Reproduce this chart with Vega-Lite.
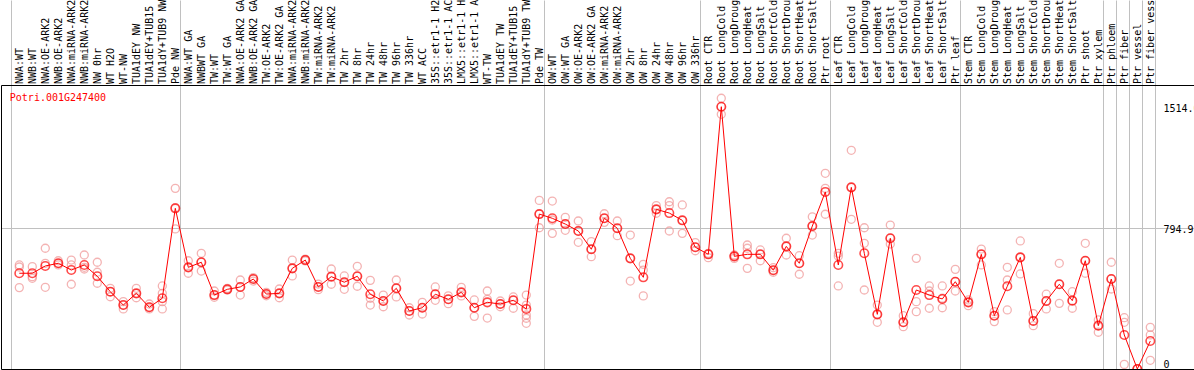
{
  "$schema": "https://vega.github.io/schema/vega-lite/v6.json",
  "width": 1193,
  "height": 284,
  "autosize": {"type": "none"},
  "padding": {"left": 1, "top": 85, "right": 0, "bottom": 1},
  "background": "white",
  "config": {
    "view": {"stroke": null},
    "font": "DejaVu Sans Mono",
    "axis": {"labelFont": "DejaVu Sans Mono", "titleFont": "DejaVu Sans Mono"}
  },
  "datasets": {
    "means": [
      {"i":1,"sample":"NWA:WT","v":529},{"i":2,"sample":"NWB:WT","v":529},{"i":3,"sample":"NWA:OE-ARK2","v":572},{"i":4,"sample":"NWB:OE-ARK2","v":588},
      {"i":5,"sample":"NWA:miRNA-ARK2","v":548},{"i":6,"sample":"NWB:miRNA-ARK2","v":578},{"i":7,"sample":"NW 0hr","v":511},{"i":8,"sample":"WT H2O","v":420},
      {"i":9,"sample":"WT-NW","v":341},{"i":10,"sample":"TUA1dEY NW","v":410},{"i":11,"sample":"TUA1dEY+TUB15 NW","v":328},{"i":12,"sample":"TUA1dY+TUB9 NW","v":381},
      {"i":13,"sample":"Pde NW","v":913},{"i":14,"sample":"NWA:WT GA","v":564},{"i":15,"sample":"NWBWT GA","v":594},{"i":16,"sample":"TW:WT","v":400},
      {"i":17,"sample":"TW:WT GA","v":434},{"i":18,"sample":"NWA:OE-ARK2 GA","v":448},{"i":19,"sample":"NWB:OE-ARK2 GA","v":495},{"i":20,"sample":"TW:OE-ARK2","v":406},
      {"i":21,"sample":"TW:OE-ARK2 GA","v":410},{"i":22,"sample":"NWA:miRNA-ARK2 GA","v":558},{"i":23,"sample":"NWB:miRNA-ARK2 GA","v":607},{"i":24,"sample":"TW:miRNA-ARK2","v":448},
      {"i":25,"sample":"TW:miRNA-ARK2 GA","v":509},{"i":26,"sample":"TW 2hr","v":476},{"i":27,"sample":"TW 8hr","v":511},{"i":28,"sample":"TW 24hr","v":405},
      {"i":29,"sample":"TW 48hr","v":365},{"i":30,"sample":"TW 96hr","v":440},{"i":31,"sample":"TW 336hr","v":306},{"i":32,"sample":"WT ACC","v":325},
      {"i":33,"sample":"35S::etr1-1 H2O","v":405},{"i":34,"sample":"35S::etr1-1 ACC","v":375},{"i":35,"sample":"LMX5::etr1-1 H2O","v":416},{"i":36,"sample":"LMX5::etr1-1 ACC","v":325},
      {"i":37,"sample":"WT-TW","v":357},{"i":38,"sample":"TUA1dEY TW","v":347},{"i":39,"sample":"TUA1dEY+TUB15 TW","v":369},{"i":40,"sample":"TUA1dY+TUB9 TW","v":318},
      {"i":41,"sample":"Pde TW","v":879},{"i":42,"sample":"OW:WT","v":854},{"i":43,"sample":"OW:WT GA","v":820},{"i":44,"sample":"OW:OE-ARK2","v":779},
      {"i":45,"sample":"OW:OE-ARK2 GA","v":671},{"i":46,"sample":"OW:miRNA-ARK2","v":854},{"i":47,"sample":"OW:miRNA-ARK2 GA","v":795},{"i":48,"sample":"OW 2hr","v":617},
      {"i":49,"sample":"OW 8hr","v":505},{"i":50,"sample":"OW 24hr","v":907},{"i":51,"sample":"OW 48hr","v":885},{"i":52,"sample":"OW 96hr","v":842},
      {"i":53,"sample":"OW 336hr","v":683},{"i":54,"sample":"Root CTR","v":641},{"i":55,"sample":"Root LongCold","v":1514},{"i":56,"sample":"Root LongDrought","v":629},
      {"i":57,"sample":"Root LongHeat","v":641},{"i":58,"sample":"Root LongSalt","v":641},{"i":59,"sample":"Root ShortCold","v":547},{"i":60,"sample":"Root ShortDrought","v":688},
      {"i":61,"sample":"Root ShortHeat","v":588},{"i":62,"sample":"Root ShortSalt","v":808},{"i":63,"sample":"Ptr root","v":1010},{"i":64,"sample":"Leaf CTR","v":578},
      {"i":65,"sample":"Leaf LongCold","v":1037},{"i":66,"sample":"Leaf LongDrought","v":647},{"i":67,"sample":"Leaf LongHeat","v":286},{"i":68,"sample":"Leaf LongSalt","v":736},
      {"i":69,"sample":"Leaf ShortCold","v":239},{"i":70,"sample":"Leaf ShortDrought","v":430},{"i":71,"sample":"Leaf ShortHeat","v":400},{"i":72,"sample":"Leaf ShortSalt","v":377},
      {"i":73,"sample":"Ptr leaf","v":479},{"i":74,"sample":"Stem CTR","v":357},{"i":75,"sample":"Stem LongCold","v":641},{"i":76,"sample":"Stem LongDrought","v":278},
      {"i":77,"sample":"Stem LongHeat","v":452},{"i":78,"sample":"Stem LongSalt","v":623},{"i":79,"sample":"Stem ShortCold","v":247},{"i":80,"sample":"Stem ShortDrought","v":365},
      {"i":81,"sample":"Stem ShortHeat","v":464},{"i":82,"sample":"Stem ShortSalt","v":367},{"i":83,"sample":"Ptr shoot","v":603},{"i":84,"sample":"Ptr xylem","v":219},
      {"i":85,"sample":"Ptr phloem","v":495},{"i":86,"sample":"Ptr fiber","v":164},{"i":87,"sample":"Ptr vessel","v":-37},{"i":88,"sample":"Ptr fiber vessel","v":128}
    ],
    "reps": [
      {"i":1,"v":578},{"i":1,"v":566},{"i":1,"v":444},
      {"i":2,"v":568},{"i":2,"v":509},{"i":2,"v":499},
      {"i":3,"v":677},{"i":3,"v":588},{"i":3,"v":446},
      {"i":4,"v":603},{"i":4,"v":588},{"i":4,"v":578},
      {"i":5,"v":607},{"i":5,"v":578},{"i":5,"v":464},
      {"i":6,"v":637},{"i":6,"v":564},{"i":6,"v":554},
      {"i":7,"v":594},{"i":7,"v":535},{"i":7,"v":470},
      {"i":8,"v":440},{"i":8,"v":420},{"i":8,"v":390},
      {"i":9,"v":361},{"i":9,"v":341},{"i":9,"v":318},
      {"i":10,"v":440},{"i":10,"v":410},{"i":10,"v":384},
      {"i":11,"v":347},{"i":11,"v":328},{"i":11,"v":318},
      {"i":12,"v":454},{"i":12,"v":410},{"i":12,"v":361},{"i":12,"v":318},
      {"i":13,"v":1031},{"i":13,"v":917},{"i":13,"v":791},
      {"i":14,"v":603},{"i":14,"v":564},{"i":14,"v":529},
      {"i":15,"v":647},{"i":15,"v":594},{"i":15,"v":542},
      {"i":16,"v":424},{"i":16,"v":400},{"i":16,"v":387},
      {"i":17,"v":440},{"i":17,"v":434},{"i":17,"v":430},
      {"i":18,"v":489},{"i":18,"v":448},{"i":18,"v":400},
      {"i":19,"v":503},{"i":19,"v":495},{"i":19,"v":483},
      {"i":20,"v":416},{"i":20,"v":406},{"i":20,"v":396},
      {"i":21,"v":436},{"i":21,"v":410},{"i":21,"v":384},
      {"i":22,"v":607},{"i":22,"v":558},{"i":22,"v":513},
      {"i":23,"v":613},{"i":23,"v":607},{"i":23,"v":602},
      {"i":24,"v":465},{"i":24,"v":448},{"i":24,"v":432},
      {"i":25,"v":554},{"i":25,"v":509},{"i":25,"v":464},
      {"i":26,"v":513},{"i":26,"v":476},{"i":26,"v":434},
      {"i":27,"v":570},{"i":27,"v":511},{"i":27,"v":452},
      {"i":28,"v":487},{"i":28,"v":381},{"i":28,"v":341},
      {"i":29,"v":400},{"i":29,"v":365},{"i":29,"v":331},
      {"i":30,"v":489},{"i":30,"v":440},{"i":30,"v":389},
      {"i":31,"v":325},{"i":31,"v":306},{"i":31,"v":282},
      {"i":32,"v":357},{"i":32,"v":325},{"i":32,"v":288},
      {"i":33,"v":448},{"i":33,"v":405},{"i":33,"v":369},
      {"i":34,"v":395},{"i":34,"v":375},{"i":34,"v":349},
      {"i":35,"v":446},{"i":35,"v":416},{"i":35,"v":395},
      {"i":36,"v":371},{"i":36,"v":325},{"i":36,"v":274},
      {"i":37,"v":424},{"i":37,"v":375},{"i":37,"v":264},
      {"i":38,"v":365},{"i":38,"v":347},{"i":38,"v":331},
      {"i":39,"v":389},{"i":39,"v":369},{"i":39,"v":322},
      {"i":40,"v":400},{"i":40,"v":341},{"i":40,"v":282},{"i":40,"v":263},{"i":40,"v":233},
      {"i":41,"v":960},{"i":41,"v":879},{"i":41,"v":798},
      {"i":42,"v":956},{"i":42,"v":844},{"i":42,"v":765},
      {"i":43,"v":860},{"i":43,"v":820},{"i":43,"v":783},
      {"i":44,"v":838},{"i":44,"v":779},{"i":44,"v":712},
      {"i":45,"v":716},{"i":45,"v":671},{"i":45,"v":627},
      {"i":46,"v":881},{"i":46,"v":854},{"i":46,"v":830},
      {"i":47,"v":838},{"i":47,"v":795},{"i":47,"v":751},
      {"i":48,"v":755},{"i":48,"v":617},{"i":48,"v":483},
      {"i":49,"v":582},{"i":49,"v":548},{"i":49,"v":395},
      {"i":50,"v":929},{"i":50,"v":907},{"i":50,"v":884},
      {"i":51,"v":952},{"i":51,"v":929},{"i":51,"v":779},
      {"i":52,"v":933},{"i":52,"v":842},{"i":52,"v":765},
      {"i":53,"v":710},{"i":53,"v":683},{"i":53,"v":662},
      {"i":54,"v":647},{"i":54,"v":641},{"i":54,"v":621},
      {"i":55,"v":1564},{"i":55,"v":1514},{"i":55,"v":1469},
      {"i":56,"v":637},{"i":56,"v":629},{"i":56,"v":617},
      {"i":57,"v":696},{"i":57,"v":677},{"i":57,"v":558},
      {"i":58,"v":667},{"i":58,"v":641},{"i":58,"v":603},
      {"i":59,"v":562},{"i":59,"v":547},{"i":59,"v":535},
      {"i":60,"v":736},{"i":60,"v":688},{"i":60,"v":637},
      {"i":61,"v":633},{"i":61,"v":588},{"i":61,"v":523},
      {"i":62,"v":863},{"i":62,"v":808},{"i":62,"v":755},
      {"i":63,"v":1120},{"i":63,"v":1031},{"i":63,"v":878},
      {"i":64,"v":647},{"i":64,"v":630},{"i":64,"v":454},
      {"i":65,"v":1256},{"i":65,"v":1037},{"i":65,"v":848},
      {"i":66,"v":798},{"i":66,"v":706},{"i":66,"v":430},
      {"i":67,"v":341},{"i":67,"v":286},{"i":67,"v":239},
      {"i":68,"v":814},{"i":68,"v":736},{"i":68,"v":702},
      {"i":69,"v":278},{"i":69,"v":239},{"i":69,"v":213},
      {"i":70,"v":617},{"i":70,"v":361},{"i":70,"v":302},
      {"i":71,"v":454},{"i":71,"v":424},{"i":71,"v":322},
      {"i":72,"v":454},{"i":72,"v":381},{"i":72,"v":325},
      {"i":73,"v":552},{"i":73,"v":479},{"i":73,"v":424},
      {"i":74,"v":371},{"i":74,"v":357},{"i":74,"v":337},
      {"i":75,"v":672},{"i":75,"v":641},{"i":75,"v":578},
      {"i":76,"v":302},{"i":76,"v":278},{"i":76,"v":243},
      {"i":77,"v":564},{"i":77,"v":489},{"i":77,"v":312},
      {"i":78,"v":720},{"i":78,"v":623},{"i":78,"v":525},
      {"i":79,"v":290},{"i":79,"v":247},{"i":79,"v":219},
      {"i":80,"v":405},{"i":80,"v":365},{"i":80,"v":318},
      {"i":81,"v":588},{"i":81,"v":464},{"i":81,"v":351},
      {"i":82,"v":420},{"i":82,"v":367},{"i":82,"v":322},
      {"i":83,"v":706},{"i":83,"v":603},{"i":83,"v":529},
      {"i":84,"v":253},{"i":84,"v":219},{"i":84,"v":180},
      {"i":85,"v":594},{"i":85,"v":495},{"i":85,"v":436},
      {"i":86,"v":266},{"i":86,"v":239},{"i":86,"v":-10},
      {"i":87,"v":-37},{"i":87,"v":-37},{"i":87,"v":-37},
      {"i":88,"v":209},{"i":88,"v":164},{"i":88,"v":14}
    ]
  },
  "resolve": {"axis": {"x": "independent", "y": "independent"}},
  "layer": [
    {
      "data": {"name": "reps"},
      "mark": {"type": "point", "shape": "circle", "filled": false, "size": 64, "stroke": "#f09494", "strokeWidth": 1.3, "clip": true},
      "encoding": {
        "x": {"field": "i", "type": "quantitative",
              "scale": {"domain": [-0.4077, 91.3615], "nice": false, "zero": false},
              "axis": {"orient": "bottom", "title": null, "labels": false, "ticks": false, "grid": false, "domain": true, "domainColor": "#000000", "domainWidth": 1}},
        "y": {"field": "v", "type": "quantitative",
              "scale": {"domain": [-37.3, 1642.4], "nice": false, "zero": false},
              "axis": {"orient": "right", "title": null, "offset": -31, "domain": false, "ticks": false, "tickSize": 0, "grid": false,
                       "values": [0, 794.9, 1514], "labelPadding": 0, "labelAlign": "left", "labelBaseline": "middle", "labelOffset": 1.5,
                       "labelFont": "DejaVu Sans Mono", "labelFontSize": 10, "labelColor": "#000000", "labelOverlap": false, "labelFlush": false, "labelBound": false,
                       "labelExpr": "datum.value === 0 ? '0' : format(datum.value, '.1f')"}}
      }
    },
    {
      "data": {"name": "means"},
      "mark": {"type": "line", "color": "#ff0000", "strokeWidth": 1, "clip": true},
      "encoding": {
        "x": {"field": "i", "type": "quantitative",
              "axis": {"orient": "top", "title": null, "domain": true, "domainColor": "#000000", "domainWidth": 1,
                       "values": [0.3846, 1, 2, 3, 4, 5, 6, 7, 8, 9, 10, 11, 12, 13, 13.3846, 14, 15, 16, 17, 18, 19, 20, 21, 22, 23, 24, 25, 26, 27, 28, 29, 30, 31, 32, 33, 34, 35, 36, 37, 38, 39, 40, 41, 41.3846, 42, 43, 44, 45, 46, 47, 48, 49, 50, 51, 52, 53, 53.3846, 54, 55, 56, 57, 58, 59, 60, 61, 62, 63, 63.3846, 64, 65, 66, 67, 68, 69, 70, 71, 72, 73, 73.3846, 74, 75, 76, 77, 78, 79, 80, 81, 82, 83, 84, 84.3846, 85, 85.3846, 86, 86.3846, 87, 87.3846, 88, 88.3846],
                       "ticks": true, "tickSize": 85, "tickColor": "#c0c0c0", "tickWidth": 1,
                       "tickOpacity": {"condition": {"test": "datum.value % 1 !== 0", "value": 1}, "value": 0},
                       "grid": true, "gridColor": "#c0c0c0", "gridWidth": 1,
                       "gridOpacity": {"condition": {"test": "datum.value % 1 !== 0", "value": 1}, "value": 0},
                       "labelAngle": -90, "labelAlign": "left", "labelBaseline": "middle", "labelPadding": -83.5,
                       "labelFont": "DejaVu Sans Mono", "labelFontSize": 10, "labelColor": "#000000",
                       "labelOverlap": false, "labelFlush": false, "labelBound": false,
                       "labelExpr": "datum.value % 1 === 0 ? ['NWA:WT','NWB:WT','NWA:OE-ARK2','NWB:OE-ARK2','NWA:miRNA-ARK2','NWB:miRNA-ARK2','NW 0hr','WT H2O','WT-NW','TUA1dEY NW','TUA1dEY+TUB15 NW','TUA1dY+TUB9 NW','Pde NW','NWA:WT GA','NWBWT GA','TW:WT','TW:WT GA','NWA:OE-ARK2 GA','NWB:OE-ARK2 GA','TW:OE-ARK2','TW:OE-ARK2 GA','NWA:miRNA-ARK2 GA','NWB:miRNA-ARK2 GA','TW:miRNA-ARK2','TW:miRNA-ARK2 GA','TW 2hr','TW 8hr','TW 24hr','TW 48hr','TW 96hr','TW 336hr','WT ACC','35S::etr1-1 H2O','35S::etr1-1 ACC','LMX5::etr1-1 H2O','LMX5::etr1-1 ACC','WT-TW','TUA1dEY TW','TUA1dEY+TUB15 TW','TUA1dY+TUB9 TW','Pde TW','OW:WT','OW:WT GA','OW:OE-ARK2','OW:OE-ARK2 GA','OW:miRNA-ARK2','OW:miRNA-ARK2 GA','OW 2hr','OW 8hr','OW 24hr','OW 48hr','OW 96hr','OW 336hr','Root CTR','Root LongCold','Root LongDrought','Root LongHeat','Root LongSalt','Root ShortCold','Root ShortDrought','Root ShortHeat','Root ShortSalt','Ptr root','Leaf CTR','Leaf LongCold','Leaf LongDrought','Leaf LongHeat','Leaf LongSalt','Leaf ShortCold','Leaf ShortDrought','Leaf ShortHeat','Leaf ShortSalt','Ptr leaf','Stem CTR','Stem LongCold','Stem LongDrought','Stem LongHeat','Stem LongSalt','Stem ShortCold','Stem ShortDrought','Stem ShortHeat','Stem ShortSalt','Ptr shoot','Ptr xylem','Ptr phloem','Ptr fiber','Ptr vessel','Ptr fiber vessel'][datum.value - 1] : ''"}},
        "y": {"field": "v", "type": "quantitative",
              "axis": {"orient": "left", "values": [794.9], "labels": false, "ticks": false, "grid": true, "gridColor": "#c0c0c0", "gridWidth": 1,
                       "domain": true, "domainColor": "#000000", "domainWidth": 1,
                       "title": "Potri.001G247400", "titleAngle": 0, "titleAlign": "left", "titleBaseline": "middle", "titleX": 8.3, "titleY": 12,
                       "titleColor": "#ff0000", "titleFont": "DejaVu Sans Mono", "titleFontSize": 10, "titleFontWeight": "normal"}}
      }
    },
    {
      "data": {"name": "means"},
      "mark": {"type": "point", "shape": "circle", "filled": false, "size": 72, "stroke": "#ff0000", "strokeWidth": 1.6, "clip": true},
      "encoding": {
        "x": {"field": "i", "type": "quantitative", "axis": null},
        "y": {"field": "v", "type": "quantitative", "axis": null}
      }
    }
  ]
}
